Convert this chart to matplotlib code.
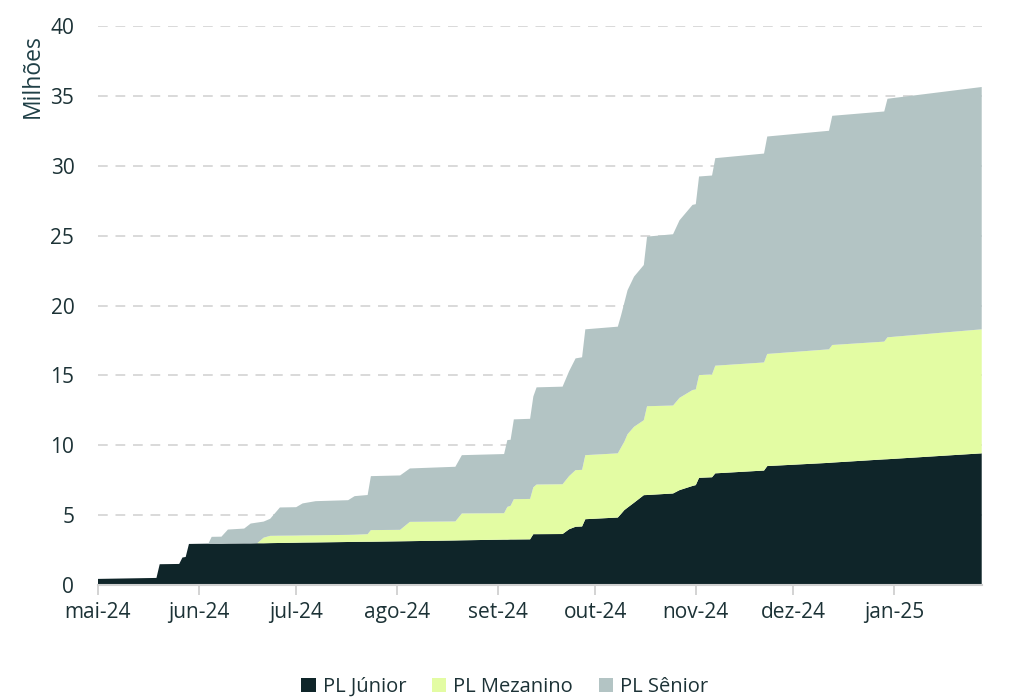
import numpy as np
import pandas as pd
import matplotlib
matplotlib.use("Agg")
import matplotlib.pyplot as plt
from matplotlib.patches import Patch

plt.rcParams['font.family'] = ['Open Sans', 'DejaVu Sans']

# --- dados (milhões) ---
datas = pd.to_datetime([
    "2024-05-01", "2024-05-19", "2024-05-20", "2024-05-26", "2024-05-27", "2024-05-28",
    "2024-05-29", "2024-06-04", "2024-06-05", "2024-06-08", "2024-06-10", "2024-06-15",
    "2024-06-17", "2024-06-19", "2024-06-21", "2024-06-23", "2024-06-26", "2024-07-01",
    "2024-07-03", "2024-07-07", "2024-07-17", "2024-07-19", "2024-07-23", "2024-07-24",
    "2024-08-02", "2024-08-05", "2024-08-19", "2024-08-21", "2024-09-03", "2024-09-04",
    "2024-09-05", "2024-09-06", "2024-09-11", "2024-09-12", "2024-09-13", "2024-09-21",
    "2024-09-23", "2024-09-25", "2024-09-27", "2024-09-28", "2024-10-08", "2024-10-09",
    "2024-10-10", "2024-10-11", "2024-10-13", "2024-10-16", "2024-10-17", "2024-10-25",
    "2024-10-27", "2024-10-31", "2024-11-01", "2024-11-02", "2024-11-06", "2024-11-07",
    "2024-11-22", "2024-11-23", "2024-12-12", "2024-12-13", "2024-12-29", "2024-12-30",
    "2025-01-28",
])

pl_junior = [
    0.45, 0.52, 1.50, 1.52, 1.98, 2.02,
    2.95, 2.97, 2.97, 2.97, 2.98, 2.99,
    2.99, 3.00, 3.00, 3.01, 3.02, 3.04,
    3.05, 3.06, 3.09, 3.10, 3.11, 3.11,
    3.14, 3.15, 3.20, 3.21, 3.26, 3.26,
    3.27, 3.27, 3.28, 3.65, 3.65, 3.66,
    4.00, 4.18, 4.20, 4.72, 4.84, 5.10,
    5.37, 5.55, 5.90, 6.44, 6.45, 6.56,
    6.80, 7.10, 7.16, 7.68, 7.72, 8.00,
    8.20, 8.52, 8.75, 8.77, 9.00, 9.01,
    9.43,
]

pl_mezanino = [
    0.00, 0.00, 0.00, 0.00, 0.00, 0.00,
    0.00, 0.00, 0.00, 0.00, 0.00, 0.00,
    0.00, 0.00, 0.40, 0.52, 0.52, 0.51,
    0.51, 0.51, 0.51, 0.51, 0.54, 0.83,
    0.82, 1.38, 1.36, 1.92, 1.89, 2.34,
    2.41, 2.88, 2.89, 3.35, 3.55, 3.56,
    3.80, 4.05, 4.05, 4.58, 4.59, 4.75,
    4.89, 5.25, 5.43, 5.36, 6.35, 6.29,
    6.60, 6.86, 6.84, 7.35, 7.35, 7.70,
    7.73, 8.02, 8.12, 8.41, 8.42, 8.72,
    8.87,
]

pl_senior = [
    0.00, 0.00, 0.00, 0.00, 0.00, 0.00,
    0.00, 0.01, 0.49, 0.50, 1.00, 1.06,
    1.42, 1.48, 1.15, 1.22, 2.02, 2.03,
    2.29, 2.44, 2.48, 2.76, 2.80, 3.86,
    3.89, 3.82, 3.91, 4.17, 4.23, 4.78,
    4.72, 5.71, 5.73, 6.50, 6.95, 6.98,
    7.50, 7.99, 8.05, 9.00, 9.06, 9.45,
    9.94, 10.30, 10.74, 11.10, 12.13, 12.25,
    12.70, 13.24, 13.25, 14.20, 14.23, 14.84,
    14.94, 15.55, 15.63, 16.39, 16.46, 17.06,
    17.33,
]

series = ["PL Júnior", "PL Mezanino", "PL Sênior"]
cores = ["#0f2529", "#e3fca3", "#b3c4c4"]

meses = pd.date_range("2024-05-01", "2025-01-01", freq="MS")
rotulos_meses = ["mai-24", "jun-24", "jul-24", "ago-24", "set-24",
                 "out-24", "nov-24", "dez-24", "jan-25"]

cor_texto = '#1c3236'

# --- figura ---
fig = plt.figure(figsize=(10.1, 7.0), dpi=100)
ax = fig.add_axes([0.097, 0.164, 0.875, 0.799])

ax.stackplot(datas, pl_junior, pl_mezanino, pl_senior,
             colors=cores, labels=series, linewidth=0, zorder=2)

ax.set_ylim(0, 40)
ax.set_yticks(np.arange(0, 41, 5))
ax.set_xlim(datas[0], datas[-1])
ax.set_xticks(meses)
ax.set_xticklabels(rotulos_meses)

ax.grid(axis='y', color='#d9d9d9', linestyle=(0, (5, 4)), linewidth=1.4, zorder=0)
ax.set_axisbelow(True)

for s in ['top', 'right', 'left']:
    ax.spines[s].set_visible(False)
ax.spines['bottom'].set_color('#d0d0d0')
ax.spines['bottom'].set_linewidth(1.5)
ax.spines['bottom'].set_zorder(3)

ax.tick_params(axis='y', length=0, pad=17, labelsize=15, labelcolor=cor_texto)
ax.tick_params(axis='x', length=7, width=1.3, color='#d0d0d0', pad=5,
               labelsize=15, labelcolor=cor_texto)

fig.text(0.032, 1 - 76 / 700, "Milhões", rotation=90, ha='center', va='center',
         fontsize=16.5, color='#1f3f46')

handles = [Patch(facecolor=c, edgecolor='none') for c in cores]
fig.legend(handles, series, loc='center', bbox_to_anchor=(0.5, 1 - 687 / 700),
           ncol=3, frameon=False, fontsize=14.5, handlelength=0.7, handleheight=0.7,
           handletextpad=0.35, columnspacing=1.3, labelcolor=cor_texto)

fig.savefig("out.png", dpi=100)
